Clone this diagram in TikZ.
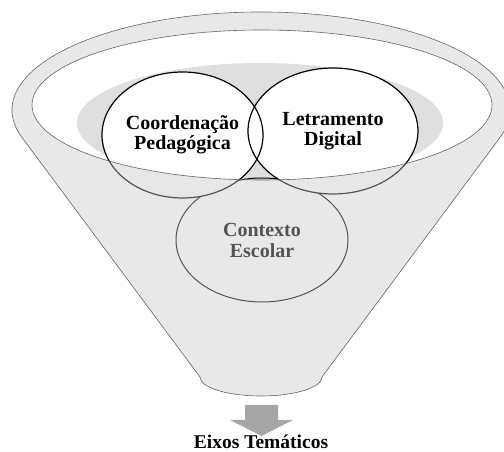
\documentclass[tikz,border=0pt]{standalone}
\usepackage{fontspec}
\setmainfont{Liberation Serif}
\usetikzlibrary{
    shapes.geometric,
}
\definecolor{rimgray}{RGB}{200,200,200}
\definecolor{shadegray}{RGB}{223,223,223}
\definecolor{edgegray}{RGB}{100,100,100}
\definecolor{arrowgray}{RGB}{166,166,166}
\tikzstyle{topic} = [ellipse, draw, line width=1.2pt, inner sep=0pt,
    align=center, font=\fontsize{20}{20}\selectfont\bfseries]
\tikzstyle{context} = [ellipse, draw, line width=1pt, inner sep=0pt,
    align=center, font=\fontsize{20}{21}\selectfont\bfseries]
\tikzstyle{blank} = [fill=white]
\tikzstyle{rim} = [draw=edgegray, line width=0.6pt]

\begin{document}
\begin{tikzpicture}[x=1pt, y=1pt]
        \useasboundingbox (0,0) rectangle (504,452);
        \clip (0,0) rectangle (504,452);
        % Shade inside the opening
        \begin{scope}
            \clip (262,347) ellipse [x radius=230pt, y radius=75pt];
            \fill [shadegray] (260,329) ellipse [x radius=183pt, y radius=60pt];
        \end{scope}
        % Place nodes
        \node [context, minimum width=172pt, minimum height=124pt] (contexto) at (262,212) {Contexto\\Escolar};
        \coordinate (coordpos) at (182.5,317);
        \coordinate (letrapos) at (333,321);
        \fill [blank] (coordpos) ellipse [x radius=80.5pt, y radius=63pt];
        \fill [blank] (letrapos) ellipse [x radius=85pt, y radius=63pt];
        \node [topic, minimum width=161pt, minimum height=126pt] (coord) at (coordpos) {Coordenação\\Pedagógica};
        \node [topic, minimum width=170pt, minimum height=126pt] (letra) at (letrapos) {Letramento\\Digital};
        % Front wall of the funnel
        \fill [rimgray, fill opacity=0.42, even odd rule]
            (261,342) ++(196:249pt and 98pt)
            arc [start angle=196, end angle=-16, x radius=249pt, y radius=98pt]
            -- (322,75) arc [start angle=0, end angle=-180, x radius=61pt, y radius=19pt]
            -- cycle
            (262,347) ellipse [x radius=230pt, y radius=75pt];
        \path [rim] (261,342) ++(196:249pt and 98pt)
            arc [start angle=196, end angle=-16, x radius=249pt, y radius=98pt]
            -- (322,75) arc [start angle=0, end angle=-180, x radius=61pt, y radius=19pt]
            -- cycle;
        \path [rim] (262,347) ellipse [x radius=230pt, y radius=75pt];
        % Output arrow
        \fill [arrowgray] (245,47) -- (278,47) -- (278,32) -- (293,32)
            -- (261.5,16) -- (230,32) -- (245,32) -- cycle;
        \node [anchor=base, font=\fontsize{19.5}{20}\selectfont\bfseries] (eixos) at (261,3) {Eixos Temáticos};
    \end{tikzpicture}
\end{document}
